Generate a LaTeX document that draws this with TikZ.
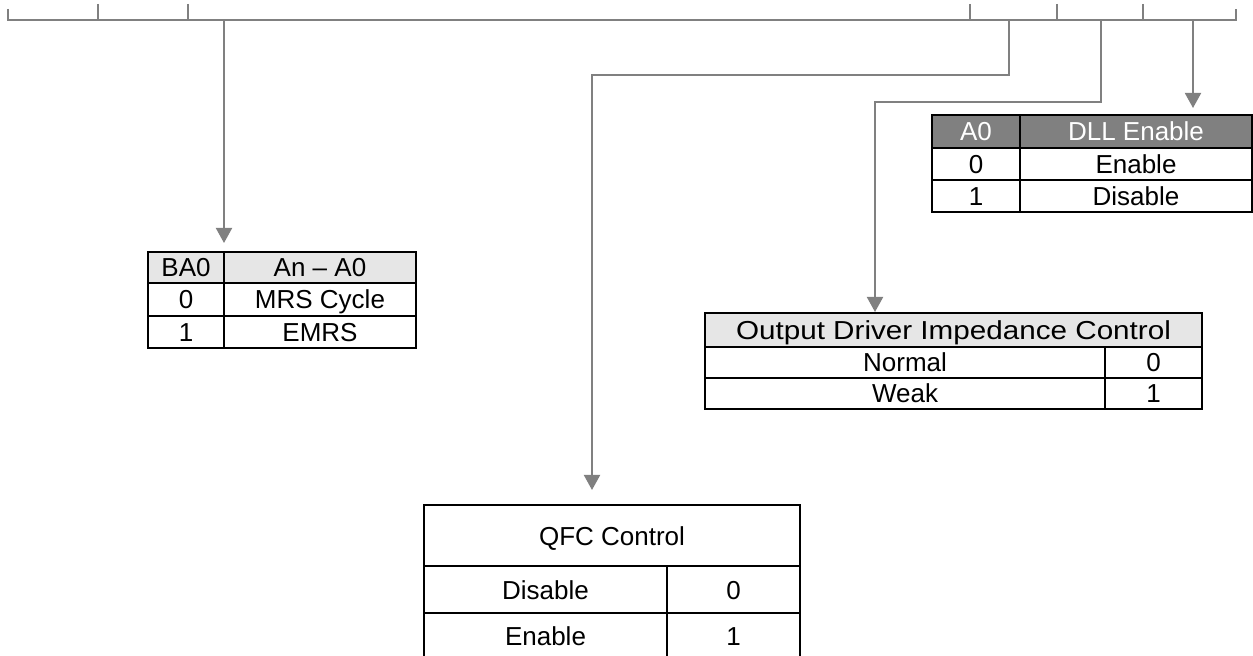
\documentclass[tikz,border=0pt]{standalone}
\usepackage{fontspec}
\setmainfont{Liberation Sans}
\usetikzlibrary{arrows.meta}

\definecolor{wiregray}{HTML}{808080}
\definecolor{headlight}{HTML}{E6E6E6}
\definecolor{headdark}{HTML}{808080}

\tikzset{
  wire/.style={draw=wiregray, line width=1pt},
  feed/.style={wire, -{Triangle[length=7.5pt,width=8pt]}},
  rule/.style={draw=black, line width=1pt},
  cell/.style={inner sep=0pt, text height=9.3pt, text depth=0pt, font=\fontsize{13}{15}\selectfont},
  darkcell/.style={cell, text=white}
}

\begin{document}
\begin{tikzpicture}[x=0.5pt,y=-0.5pt]
\useasboundingbox (0,0) rectangle (1253,656);

% register bar
\coordinate (barL) at (8,20);
\coordinate (barR) at (1236,20);
\draw [wire] (8,9) -- (barL) -- (barR) -- (1236,9);
\foreach \x in {98,188,970,1057,1143}
  \draw [wire] (\x,4) -- (\x,20);

\coordinate (bitBA) at (224,20);
\coordinate (bitQFC) at (1009,20);
\coordinate (bitDS) at (1101,20);
\coordinate (bitDLL) at (1193,20);

\coordinate (inBA) at (224,243);
\coordinate (inQFC) at (592,490);
\coordinate (inDS) at (875,312);
\coordinate (inDLL) at (1193,108);

\draw [feed] (bitBA) -- (inBA);
\draw [feed] (bitQFC) -- ++(0,55) -| (inQFC);
\draw [feed] (bitDS) -- ++(0,82) -| (inDS);
\draw [feed] (bitDLL) -- (inDLL);

% BA0 table
\fill [headlight] (148,252) rectangle (416,283);
\draw [rule] (148,252) rectangle (416,348);
\draw [rule] (148,283) -- (416,283) (148,316) -- (416,316) (224,252) -- (224,348);
\node [cell] (baHead) at (186,267.5) {BA0};
\node [cell] (anHead) at (320,267.5) {An -- A0};
\node [cell] (baZero) at (186,299.5) {0};
\node [cell] (baMrs) at (320,299.5) {MRS Cycle};
\node [cell] (baOne) at (186,332) {1};
\node [cell] (baEmrs) at (320,332) {EMRS};

% DLL table
\fill [headdark] (932,115) rectangle (1252,148);
\draw [rule] (932,115) rectangle (1252,212);
\draw [rule] (932,148) -- (1252,148) (932,180) -- (1252,180) (1020,115) -- (1020,212);
\node [darkcell] (dllBit) at (976,131.5) {A0};
\node [darkcell] (dllHead) at (1136,131.5) {DLL Enable};
\node [cell] (dllZero) at (976,164) {0};
\node [cell] (dllOn) at (1136,164) {Enable};
\node [cell] (dllOne) at (976,196) {1};
\node [cell] (dllOff) at (1136,196) {Disable};

% drive strength table
\fill [headlight] (705,313) rectangle (1202,347);
\draw [rule] (705,313) rectangle (1202,409);
\draw [rule] (705,347) -- (1202,347) (705,378) -- (1202,378) (1105,347) -- (1105,409);
\node [cell] (dsHead) at (953.5,330) {\scalebox{1.14}[1]{Output Driver Impedance Control}};
\node [cell] (dsNormal) at (905,362.5) {Normal};
\node [cell] (dsZero) at (1153.5,362.5) {0};
\node [cell] (dsWeak) at (905,393.5) {Weak};
\node [cell] (dsOne) at (1153.5,393.5) {1};

% QFC table
\draw [rule] (424,505) rectangle (800,680);
\draw [rule] (424,566) -- (800,566) (424,613) -- (800,613) (667,566) -- (667,680);
\node [cell] (qfcHead) at (612,536) {QFC Control};
\node [cell] (qfcOff) at (545.5,590) {Disable};
\node [cell] (qfcZero) at (733.5,590) {0};
\node [cell] (qfcOn) at (545.5,636) {Enable};
\node [cell] (qfcOne) at (733.5,636) {1};
\end{tikzpicture}
\end{document}
